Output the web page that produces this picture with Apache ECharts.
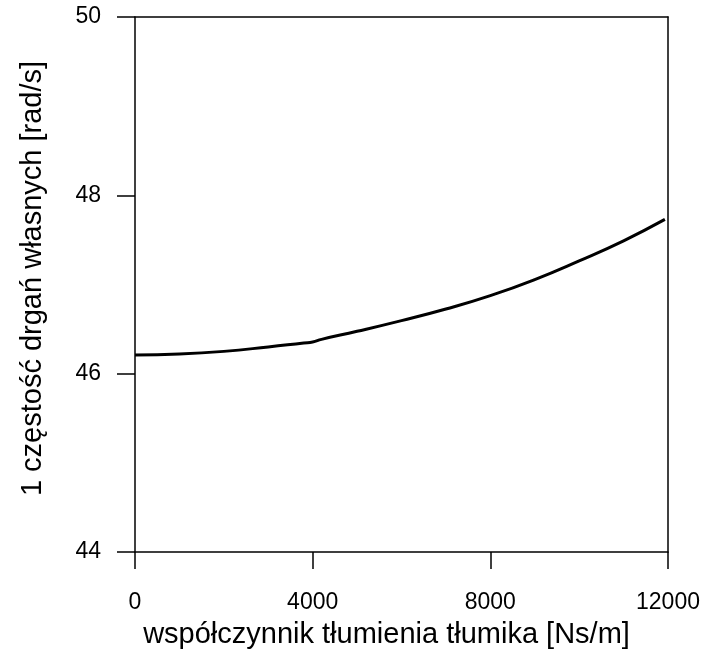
<!DOCTYPE html>
<html>
<head>
<meta charset="utf-8">
<script src="https://cdn.jsdelivr.net/npm/echarts@6/dist/echarts.min.js"></script>
<style>
  html, body { margin: 0; padding: 0; background: #fff; }
  #chart { width: 706px; height: 650px; }
</style>
</head>
<body>
<div id="chart"></div>
<script>
// Damping coefficient of the damper [Ns/m]
const damping = [0, 1000, 2000, 3000, 3800, 4000, 4200, 5000, 6000, 7000, 8000, 9000, 10000, 11000, 11930];
// First natural frequency [rad/s]
const frequency = [46.21, 46.22, 46.25, 46.30, 46.345, 46.355, 46.385, 46.475, 46.595, 46.725, 46.875, 47.055, 47.265, 47.49, 47.73];

const xTicks = [0, 4000, 8000, 12000];
const yTicks = [44, 46, 48, 50];

const FONT = 'Liberation Sans, Arial, sans-serif';
const chart = echarts.init(document.getElementById('chart'), null, { renderer: 'canvas' });

const lineStyle = { color: '#000', width: 1.5 };
const plain = v => String(v);

chart.setOption({
  backgroundColor: '#fff',
  animation: false,
  grid: { left: 135, right: 38, top: 17, bottom: 98, containLabel: false, outerBoundsMode: 'none' },
  xAxis: [
    {
      type: 'value',
      min: xTicks[0],
      max: xTicks[xTicks.length - 1],
      interval: xTicks[1] - xTicks[0],
      position: 'bottom',
      name: 'współczynnik tłumienia tłumika [Ns/m]',
      nameLocation: 'middle',
      nameGap: 68,
      nameTextStyle: { fontFamily: FONT, fontSize: 29, color: '#000', padding: [0, 30, 0, 0] },
      axisLine: { show: true, lineStyle },
      axisTick: { show: true, inside: false, length: 17, lineStyle },
      axisLabel: { fontFamily: FONT, fontSize: 23, color: '#000', margin: 39, formatter: plain },
      splitLine: { show: false }
    },
    {
      type: 'value',
      min: xTicks[0],
      max: xTicks[xTicks.length - 1],
      position: 'top',
      axisLine: { show: true, onZero: false, lineStyle },
      axisTick: { show: false },
      axisLabel: { show: false },
      splitLine: { show: false }
    }
  ],
  yAxis: [
    {
      type: 'value',
      min: yTicks[0],
      max: yTicks[yTicks.length - 1],
      interval: yTicks[1] - yTicks[0],
      position: 'left',
      name: '1 częstość drgań własnych [rad/s]',
      nameLocation: 'middle',
      nameGap: 88,
      nameTextStyle: { fontFamily: FONT, fontSize: 29, color: '#000', padding: [0, 0, 0, 12] },
      axisLine: { show: true, onZero: false, lineStyle },
      axisTick: { show: true, inside: false, length: 18, lineStyle },
      axisLabel: { fontFamily: FONT, fontSize: 23, color: '#000', margin: 34, formatter: plain },
      splitLine: { show: false }
    },
    {
      type: 'value',
      min: yTicks[0],
      max: yTicks[yTicks.length - 1],
      position: 'right',
      axisLine: { show: true, onZero: false, lineStyle },
      axisTick: { show: false },
      axisLabel: { show: false },
      splitLine: { show: false }
    }
  ],
  series: [
    {
      type: 'line',
      xAxisIndex: 0,
      yAxisIndex: 0,
      data: damping.map((d, i) => [d, frequency[i]]),
      smooth: 0.5,
      showSymbol: false,
      lineStyle: { color: '#000', width: 3 }
    }
  ]
});
</script>
</body>
</html>
